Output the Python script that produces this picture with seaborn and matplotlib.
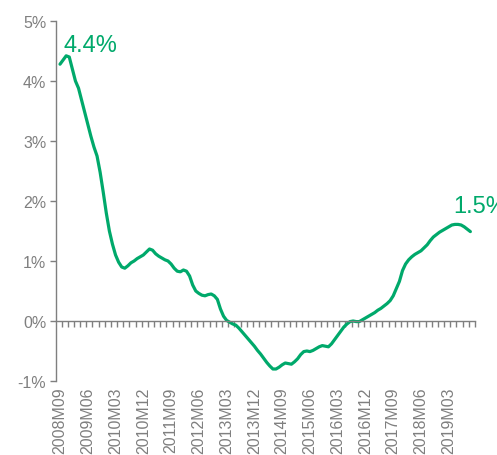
import numpy as np
import pandas as pd
import matplotlib
matplotlib.use("Agg")
import matplotlib.pyplot as plt
import seaborn as sns

# Monthly categories 2008M09 ... 2019M10
months = [f"{p.year}M{p.month:02d}" for p in pd.period_range("2008-09", "2019-10", freq="M")]
values = [
    4.28, 4.35, 4.42, 4.40, 4.20, 4.00, 3.88, 3.68, 3.48, 3.28,
    3.08, 2.90, 2.75, 2.48, 2.15, 1.80, 1.50, 1.28, 1.10, 0.98,
    0.90, 0.88, 0.92, 0.97, 1.00, 1.04, 1.07, 1.10, 1.15, 1.20,
    1.18, 1.12, 1.08, 1.05, 1.02, 1.00, 0.95, 0.88, 0.83, 0.82,
    0.85, 0.83, 0.75, 0.60, 0.50, 0.46, 0.43, 0.42, 0.44, 0.45,
    0.42, 0.36, 0.20, 0.08, 0.01, -0.02, -0.05, -0.07, -0.12, -0.18,
    -0.24, -0.30, -0.36, -0.42, -0.49, -0.55, -0.62, -0.69, -0.75, -0.80,
    -0.80, -0.77, -0.73, -0.70, -0.71, -0.72, -0.68, -0.63, -0.56, -0.51,
    -0.50, -0.51, -0.49, -0.46, -0.43, -0.41, -0.42, -0.43, -0.38, -0.31,
    -0.24, -0.17, -0.10, -0.05, -0.01, 0.00, -0.01, -0.01, 0.02, 0.05,
    0.08, 0.11, 0.14, 0.18, 0.21, 0.25, 0.29, 0.34, 0.42, 0.54,
    0.66, 0.84, 0.95, 1.02, 1.07, 1.11, 1.14, 1.17, 1.22, 1.27,
    1.34, 1.40, 1.44, 1.48, 1.51, 1.54, 1.57, 1.60, 1.61, 1.61,
    1.60, 1.57, 1.53, 1.49,
]
y_ticks = [-1, 0, 1, 2, 3, 4, 5]
y_tick_labels = ["-1%", "0%", "1%", "2%", "3%", "4%", "5%"]
start_label = "4.4%"
end_label = "1.5%"

GREEN = "#00A96B"
GREY = "#7F7F7F"

sns.set_theme(style="white")
plt.rcParams["font.family"] = ["Liberation Sans", "DejaVu Sans"]

df = pd.DataFrame({"idx": np.arange(len(values)), "value": values, "month": months})

fig = plt.figure(figsize=(4.97, 4.56), dpi=100)
ax = fig.add_axes([56 / 497, 1 - 382 / 456, (475 - 56) / 497, (382 - 22) / 456])

sns.lineplot(data=df, x="idx", y="value", ax=ax, color=GREEN, linewidth=2.3, legend=False)

ax.set_xlim(-1.3, 134.5)
ax.set_ylim(-1, 5)
ax.set_xlabel("")
ax.set_ylabel("")

# y axis
ax.set_yticks(y_ticks)
ax.set_yticklabels(y_tick_labels, color=GREY, fontsize=11.5)
ax.tick_params(axis="y", which="both", length=4, width=1, color=GREY, direction="out", pad=3, left=True)

# spines
for s in ["top", "right"]:
    ax.spines[s].set_visible(False)
ax.spines["left"].set_color(GREY)
ax.spines["left"].set_linewidth(1)
ax.spines["bottom"].set_position(("data", 0))
ax.spines["bottom"].set_color(GREY)
ax.spines["bottom"].set_linewidth(1)

# small tick marks along the zero line
ax.set_xticks(np.arange(0.5, 134.6, 2))
ax.set_xticklabels([])
ax.tick_params(axis="x", which="both", length=4, width=1, color=GREY, direction="out", bottom=True)

# category labels at the bottom
sec = ax.secondary_xaxis("bottom")
lab_pos = list(range(0, len(months), 9))
sec.set_xticks(lab_pos)
sec.set_xticklabels([months[i] for i in lab_pos], rotation=90, color=GREY, fontsize=11.5)
sec.tick_params(axis="x", length=0, pad=4)
sec.spines["bottom"].set_visible(False)

ax.grid(False)

ax.text(1, 4.5, start_label, color=GREEN, fontsize=17, va="baseline", ha="left")
ax.text(127.3, 1.82, end_label, color=GREEN, fontsize=17, va="baseline", ha="left", clip_on=False)

fig.savefig("out.png", dpi=100)
